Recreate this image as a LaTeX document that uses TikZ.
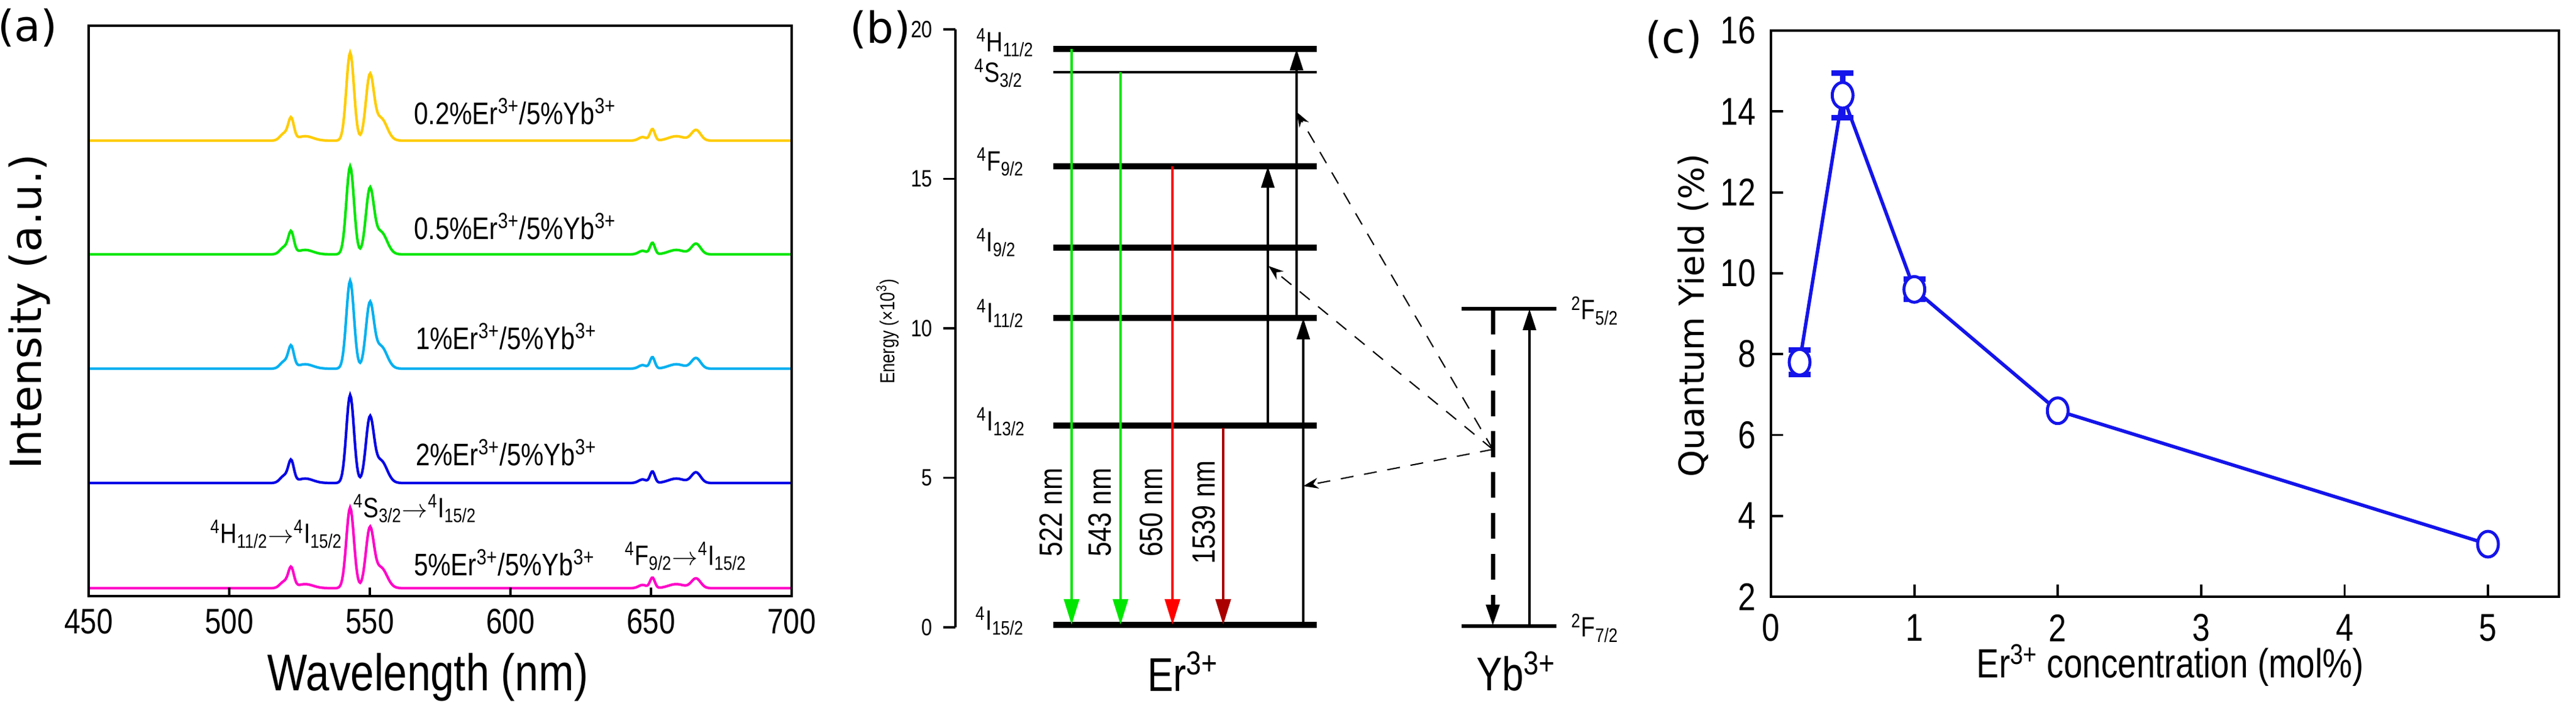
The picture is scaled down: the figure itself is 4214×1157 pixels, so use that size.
\documentclass[tikz,border=0pt]{standalone}
\usepackage{fontspec}
\setmainfont{Liberation Sans}
\newfontfamily\nar{Liberation Sans}[FakeStretch=0.82]
\newfontfamily\dvs{DejaVu Sans}
\usetikzlibrary{arrows.meta}
\definecolor{cyel}{RGB}{255,204,0}
\definecolor{cgrn}{RGB}{0,230,0}
\definecolor{ccyn}{RGB}{0,176,240}
\definecolor{cblu}{RGB}{0,0,230}
\definecolor{cmag}{RGB}{255,0,200}
\definecolor{cdred}{RGB}{170,0,0}
\definecolor{qblue}{RGB}{20,20,235}
\newcommand{\up}[1]{\textsuperscript{#1}}
\newcommand{\dn}[1]{\textsubscript{#1}}
\begin{document}
\begin{tikzpicture}[x=0.01cm,y=-0.01cm,
  declare function={g(\c,\w,\t)=exp(-(min(abs((\t-\c)/\w),6))^2);
    spec(\t)=0.08*g(519.5,2,\t)+0.24*g(522,1.4,\t)+0.05*g(527,4,\t)+1.0*g(543,1.9,\t)+0.72*g(550,2.0,\t)+0.25*g(554,3,\t)+0.04*g(647,2,\t)+0.13*g(650.5,1.2,\t)+0.05*g(659,4,\t)+0.12*g(666,2.3,\t);},
  spc/.style={line width=1.2pt},
  lab/.style={font=\nar\fontsize{14.5}{14.5}\selectfont, anchor=west},
  ann/.style={font=\nar\fontsize{13}{13}\selectfont, anchor=west, inner sep=1pt},
  lvl/.style={line width=2.6pt},
  lvlab/.style={font=\nar\fontsize{13}{13}\selectfont, anchor=east},
  em/.style={line width=1.3pt,-{Triangle[length=12pt,width=7pt]}},
  ex/.style={line width=1.3pt,-{Triangle[length=10pt,width=6pt]}},
  et/.style={dashed,line width=0.6pt,dash pattern=on 6pt off 5pt,-{Stealth[length=7pt,width=5pt]}},
  tk/.style={font=\nar\fontsize{14}{14}\selectfont}]
\useasboundingbox (0,0) rectangle (4214,1157);
% ================= panel (a)
\node[font=\dvs\fontsize{20}{20}\selectfont] (la) at (45,45) {(a)};
\foreach \b/\h/\c in {230/144/cyel,416/144/cgrn,603/144/ccyn,790/144/cblu,962/132/cmag}{
  \draw[spc,\c] plot[domain=450:700,samples=700] ({145+(\x-450)*4.6},{\b-\h*spec(\x)});
}
\draw[line width=1.3pt] (145,42) rectangle (1295,975);
\foreach \v in {500,550,600,650}{
  \draw[line width=1.2pt] ({145+(\v-450)*4.6},975) -- ++(0,-14);}
\foreach \v in {450,500,...,700}{
  \node[tk,font=\nar\fontsize{16.5}{16.5}\selectfont] at ({145+(\v-450)*4.6},1017) {\v};}
\node[font=\nar\fontsize{24}{24}\selectfont] (xa) at (700,1108) {Wavelength (nm)};
\node[font=\dvs\fontsize{20}{20}\selectfont,rotate=90] (ya) at (48,510) {Intensity (a.u.)};
\node[lab] (t1) at (665,182) {0.2\%Er\up{3+}/5\%Yb\up{3+}};
\node[lab] (t2) at (665,370) {0.5\%Er\up{3+}/5\%Yb\up{3+}};
\node[lab] (t3) at (668,550) {1\%Er\up{3+}/5\%Yb\up{3+}};
\node[lab] (t4) at (668,740) {2\%Er\up{3+}/5\%Yb\up{3+}};
\node[lab] (t5) at (665,920) {5\%Er\up{3+}/5\%Yb\up{3+}};
\node[ann] (h1) at (340,874) {\up{4}H\dn{11/2}$\rightarrow$\up{4}I\dn{15/2}};
\node[ann] (h2) at (574,832) {\up{4}S\dn{3/2}$\rightarrow$\up{4}I\dn{15/2}};
\node[ann] (h3) at (1018,910) {\up{4}F\dn{9/2}$\rightarrow$\up{4}I\dn{15/2}};
% ================= panel (b)
\node[font=\dvs\fontsize{20}{20}\selectfont] (lb) at (1440,48) {(b)};
\draw[line width=0.9pt] (1563,48) -- (1563,1026);
\foreach \e in {0,5,10,15,20}{
  \draw[line width=0.9pt] (1563,{1026-\e*48.9}) -- ++(-20,0);
  \node[font=\nar\fontsize{11}{11}\selectfont,anchor=east] at (1538,{1026-\e*48.9}) {\e};}
\node[font=\nar\fontsize{9.5}{9.5}\selectfont,rotate=90] (ey) at (1452,542) {Energy (\texttimes10\up{3})};
% Er levels
\draw[lvl] (1723,80) -- (2154,80);
\draw[line width=1pt] (1723,118) -- (2154,118);
\draw[lvl] (1723,272) -- (2154,272);
\draw[lvl] (1723,405) -- (2154,405);
\draw[lvl] (1723,520) -- (2154,520);
\draw[lvl] (1723,696) -- (2154,696);
\draw[lvl] (1723,1022) -- (2154,1022);
\node[lvlab] (nH) at (1704,70) {\up{4}H\dn{11/2}};
\node[lvlab] (nS) at (1686,120) {\up{4}S\dn{3/2}};
\node[lvlab] (nF) at (1688,265) {\up{4}F\dn{9/2}};
\node[lvlab] (nI9) at (1675,397) {\up{4}I\dn{9/2}};
\node[lvlab] (nI11) at (1688,513) {\up{4}I\dn{11/2}};
\node[lvlab] (nI13) at (1690,690) {\up{4}I\dn{13/2}};
\node[lvlab] (nI15) at (1688,1016) {\up{4}I\dn{15/2}};
% emissions
\draw[em,cgrn] (1753,80) -- (1753,1022);
\draw[em,cgrn] (1833,118) -- (1833,1022);
\draw[em,red] (1918,272) -- (1918,1022);
\draw[em,cdred] (2001,700) -- (2001,1022);
\foreach \xx/\tt in {1719/522 nm,1799/543 nm,1883/650 nm,1969/1539 nm}{
  \node[font=\nar\fontsize{15}{15}\selectfont,rotate=90,inner sep=1pt] at (\xx,838) {\tt};}
% excitations
\draw[ex] (2132,1022) -- (2132,520);
\draw[ex] (2121,520) -- (2121,80);
\draw[ex] (2074,696) -- (2074,272);
% Yb
\draw[line width=1.5pt] (2391,505) -- (2546,505);
\draw[line width=1.5pt] (2391,1024) -- (2546,1024);
\draw[line width=2pt,dash pattern=on 12pt off 7pt,-{Triangle[length=10pt,width=6pt]}] (2442,505) -- (2442,1024);
\draw[ex] (2502,1024) -- (2502,505);
\node[font=\nar\fontsize{13}{13}\selectfont,anchor=west] (y1) at (2558,508) {\up{2}F\dn{5/2}};
\node[font=\nar\fontsize{13}{13}\selectfont,anchor=west] (y2) at (2558,1027) {\up{2}F\dn{7/2}};
\coordinate (yb) at (2442,735);
\draw[et] (yb) -- (2132,795);
\draw[et] (yb) -- (2075,435);
\draw[et] (yb) -- (2121,183);
\node[font=\nar\fontsize{22}{22}\selectfont] (er) at (1935,1098) {Er\up{3+}};
\node[font=\nar\fontsize{22}{22}\selectfont] (ybn) at (2480,1098) {Yb\up{3+}};
% ================= panel (c)
\node[font=\dvs\fontsize{20}{20}\selectfont] (lc) at (2738,64) {(c)};
\draw[line width=1.3pt] (2897,50) rectangle (4186,976);
\foreach \v in {0,1,2,3,4,5}{
  \draw[line width=1.1pt] ({2897+\v*234.6},976) -- ++(0,-20);
  \node[tk,font=\nar\fontsize{18}{18}\selectfont] at ({2897+\v*234.6},1027) {\v};}
\foreach \v in {2,4,...,16}{
  \draw[line width=1.1pt] (2897,{976-(\v-2)*66.14}) -- ++(20,0);
  \node[tk,font=\nar\fontsize{18}{18}\selectfont,anchor=east] at (2885,{976-(\v-2)*66.14}) {\v};}
\node[font=\dvs\fontsize{16}{16}\selectfont,rotate=90] (yc) at (2770,516) {Quantum Yield (\%)};
\node[font=\nar\fontsize{19}{19}\selectfont] (xc) at (3550,1088) {Er\up{3+} concentration (mol\%)};
\begin{scope}[qblue]
\foreach \xv/\yv/\er in {0.2/7.8/0.3,0.5/14.4/0.55,1/9.6/0.25}{
  \draw[line width=2.6pt] ({2897+\xv*234.6},{976-(\yv-\er-2)*66.14}) -- ({2897+\xv*234.6},{976-(\yv+\er-2)*66.14});
  \draw[line width=2.6pt] ({2897+\xv*234.6-18},{976-(\yv-\er-2)*66.14}) -- ++(36,0);
  \draw[line width=2.6pt] ({2897+\xv*234.6-18},{976-(\yv+\er-2)*66.14}) -- ++(36,0);}
\draw[line width=1.6pt] ({2897+0.2*234.6},{976-5.8*66.14}) -- ({2897+0.5*234.6},{976-12.4*66.14}) -- ({2897+1*234.6},{976-7.6*66.14}) -- ({2897+2*234.6},{976-4.6*66.14}) -- ({2897+5*234.6},{976-1.3*66.14});
\foreach \xv/\yv in {0.2/7.8,0.5/14.4,1/9.6,2/6.6,5/3.3}{
  \draw[line width=1.4pt,fill=white] ({2897+\xv*234.6},{976-(\yv-2)*66.14}) ellipse (17 and 21);}
\end{scope}
\end{tikzpicture}
\end{document}
